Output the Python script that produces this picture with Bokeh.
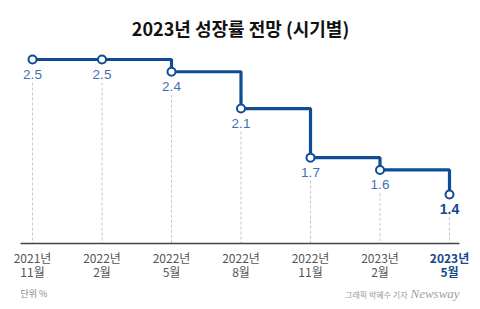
from bokeh.plotting import figure
from bokeh.models import Range1d, Label, ColumnDataSource
from bokeh.core.properties import value
from bokeh.embed import file_html
from bokeh.resources import INLINE

# ---- data ----
periods = ["2021년\n11월", "2022년\n2월", "2022년\n5월", "2022년\n8월",
           "2022년\n11월", "2023년\n2월", "2023년\n5월"]
growth = [2.5, 2.5, 2.4, 2.1, 1.7, 1.6, 1.4]
value_labels = ["2.5", "2.5", "2.4", "2.1", "1.7", "1.6", "1.4"]
base_value = 1.0
title_text = "2023년 성장률 전망 (시기별)"
unit_text = "단위 %"
credit_text = "그래픽 박혜수 기자"
logo_text = "Newsway"

FONT = "Noto Sans CJK KR"
LINE = "#0f4c95"
LABEL = "#4470ad"
DARK = "#17468a"

idx = list(range(len(growth)))
n = len(growth)

W, H = 480, 309
px_x = 69.5    # pixels per category step
px_y = 122.7   # pixels per unit
x0 = -32 / px_x
x1 = (n - 1) + (W - 449) / px_x
y1 = growth[0] + 59 / px_y
y0 = growth[0] - (H - 59) / px_y

p = figure(width=W, height=H, x_range=Range1d(x0, x1), y_range=Range1d(y0, y1),
           output_backend="svg", toolbar_location=None, min_border=0,
           background_fill_color="white", border_fill_color="white")
p.axis.visible = False
p.grid.visible = False
p.outline_line_color = None

# dashed guides from below the value label down to the baseline
gap = 23 / px_y
p.segment(x0=idx, y0=[g - gap for g in growth], x1=idx, y1=[base_value] * n,
          line_color="#c8c8c8", line_width=1, line_dash="3 2")

# baseline
p.segment(x0=[-12 / px_x], y0=[base_value], x1=[(n - 1) + 10 / px_x], y1=[base_value],
          line_color="#444444", line_width=1.5)

# step line
p.step(idx, growth, mode="after", line_color=LINE, line_width=3.2)
p.scatter(idx, growth, size=8, fill_color="white", line_color=LINE, line_width=2)

# value labels
src = ColumnDataSource(dict(x=idx[:-1], y=growth[:-1], t=value_labels[:-1]))
p.text(x="x", y="y", text="t", source=src, y_offset=15, text_align="center",
       text_baseline="middle", text_font=value("Liberation Sans"), text_font_size="13.5px",
       text_color=LABEL)
p.text(x=[idx[-1]], y=[growth[-1]], text=[value_labels[-1]], y_offset=15,
       text_align="center", text_baseline="middle", text_font=value("Liberation Sans"),
       text_font_size="14px", text_font_style="bold", text_color=DARK)

# x labels
p.text(x=idx[:-1], y=[base_value] * (n - 1), text=periods[:-1], y_offset=5,
       text_align="center", text_baseline="top", text_font=value(FONT),
       text_font_size="12px", text_color="#555555", text_line_height=0.85)
p.text(x=[idx[-1]], y=[base_value], text=[periods[-1]], y_offset=5,
       text_align="center", text_baseline="top", text_font=value(FONT),
       text_font_size="12px", text_font_style="bold", text_color=DARK,
       text_line_height=0.85)

# title & footer
p.add_layout(Label(x=240, y=H - 27, x_units="screen", y_units="screen", text=title_text,
                   text_align="center", text_baseline="middle", text_font=FONT,
                   text_font_size="18px", text_font_style="bold", text_color="#111111"))
p.add_layout(Label(x=20, y=H - 293, x_units="screen", y_units="screen", text=unit_text,
                   text_align="left", text_baseline="middle", text_font=FONT,
                   text_font_size="9px", text_color="#888888"))
p.add_layout(Label(x=407, y=H - 294, x_units="screen", y_units="screen", text=credit_text,
                   text_align="right", text_baseline="middle", text_font=FONT,
                   text_font_size="8px", text_color="#999999"))
p.add_layout(Label(x=410, y=H - 293, x_units="screen", y_units="screen", text=logo_text,
                   text_align="left", text_baseline="middle", text_font="Liberation Serif",
                   text_font_size="13px", text_font_style="italic",
                   text_color="#a0a0a0"))

open("out.html", "w").write(file_html(p, INLINE))
